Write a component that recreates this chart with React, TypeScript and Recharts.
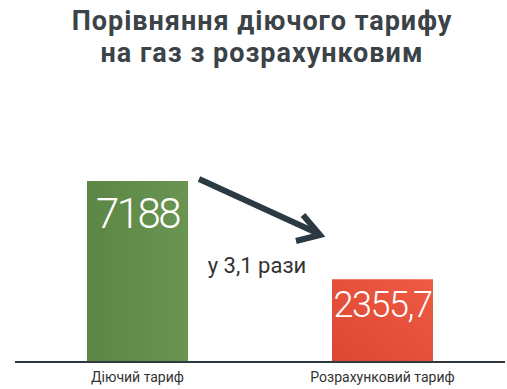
import React from "react";
import { BarChart, Bar, XAxis, YAxis, LabelList, Cell } from "recharts";

const categories = ["Діючий тариф", "Розрахунковий тариф"];
const values = [7188, 2355.7];
const valueLabels = ["7188", "2355,7"];
const ratioLabel = "у 3,1 рази";
const titleLines = ["Порівняння діючого тарифу", "на газ з розрахунковим"];

const data = categories.map((name, i) => ({
    name,
    value: values[i],
    label: valueLabels[i],
}));

const fills = ["url(#gGreen)", "url(#gRed)"];

const App: React.FC = () => {
    return (
        <div
            style={{
                position: "absolute",
                left: 0,
                top: 0,
                width: 507,
                height: 389,
                background: "#fff",
                overflow: "hidden",
            }}
        >
            <div
                style={{
                    position: "absolute",
                    left: 0,
                    top: 5,
                    width: 524,
                    textAlign: "center",
                    fontFamily: "Roboto",
                    fontWeight: 700,
                    fontSize: 27,
                    letterSpacing: 1,
                    lineHeight: "32px",
                    color: "#3a4347",
                }}
            >
                {titleLines.map((t) => (
                    <div key={t}>{t}</div>
                ))}
            </div>
            <BarChart
                width={507}
                height={389}
                data={data}
                margin={{ top: 100, right: 2, bottom: 0, left: 15 }}
                barSize={101}
            >
                <defs>
                    <linearGradient id="gGreen" x1="0" y1="0" x2="1" y2="0">
                        <stop offset="0%" stopColor="#5b8645" />
                        <stop offset="100%" stopColor="#6a9451" />
                    </linearGradient>
                    <linearGradient id="gRed" x1="0" y1="1" x2="1" y2="0">
                        <stop offset="0%" stopColor="#dc4733" />
                        <stop offset="100%" stopColor="#ef5a43" />
                    </linearGradient>
                </defs>
                <XAxis
                    dataKey="name"
                    height={27}
                    tickLine={false}
                    axisLine={{ stroke: "#2e3a40", strokeWidth: 2 }}
                    tick={{ fill: "#333", fontSize: 14, fontFamily: "Roboto" }}
                    tickMargin={4}
                />
                <YAxis hide scale="log" domain={[920, 18000]} allowDataOverflow />
                <Bar dataKey="value" isAnimationActive={false}>
                    {data.map((d, i) => (
                        <Cell key={d.name} fill={fills[i]} />
                    ))}
                    <LabelList
                        dataKey="label"
                        content={(p: any) => {
                            const big = p.index === 0;
                            return (
                                <text
                                    x={p.x + p.width / 2}
                                    y={p.y + (big ? 47 : 38)}
                                    textAnchor="middle"
                                    fill="#fff"
                                    fontFamily="Roboto"
                                    fontWeight={300}
                                    fontSize={big ? 42 : 36}
                                    letterSpacing={big ? -2.5 : -1.5}
                                >
                                    {p.value}
                                </text>
                            );
                        }}
                    />
                </Bar>
            </BarChart>
            <svg
                width={507}
                height={389}
                style={{ position: "absolute", left: 0, top: 0, pointerEvents: "none" }}
            >
                <line x1={199} y1={179} x2={317} y2={233} stroke="#2b3a42" strokeWidth={6} />
                <polyline
                    points="303,215 320,235 296,241"
                    fill="none"
                    stroke="#2b3a42"
                    strokeWidth={6}
                    strokeLinejoin="miter"
                />
                <text
                    x={257}
                    y={273}
                    textAnchor="middle"
                    fill="#333"
                    fontFamily="Roboto"
                    fontSize={22}
                >
                    {ratioLabel}
                </text>
            </svg>
        </div>
    );
};

export default App;
